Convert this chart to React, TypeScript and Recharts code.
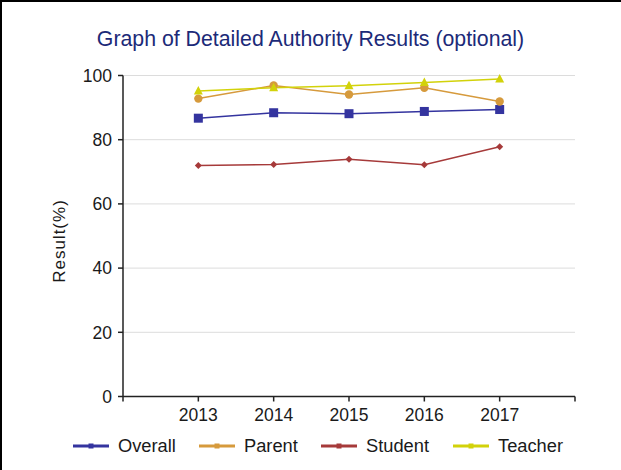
import React from "react";
import { LineChart, Line, XAxis, YAxis, CartesianGrid } from "recharts";

const years = [2013, 2014, 2015, 2016, 2017];
const overall = [86.7, 88.4, 88.1, 88.8, 89.4];
const parent = [92.8, 96.9, 94.1, 96.2, 91.9];
const student = [72.0, 72.3, 73.9, 72.2, 77.8];
const teacher = [95.2, 96.2, 96.8, 97.8, 98.9];
const yTicks = [0, 20, 40, 60, 80, 100];
const xTicks = [2012, 2013, 2014, 2015, 2016, 2017, 2018];

const data = years.map((y, i) => ({
  year: y,
  Overall: overall[i],
  Parent: parent[i],
  Student: student[i],
  Teacher: teacher[i],
}));

const COLORS = {
  Overall: "#34349f",
  Parent: "#d69a3c",
  Student: "#a63a3a",
  Teacher: "#d2d20a",
};

const FONT = "'Liberation Sans', Arial, sans-serif";

const Square = (props: any) => {
  const { cx, cy } = props;
  if (cx == null || cy == null) return null;
  return <rect x={cx - 4.5} y={cy - 4.5} width={9} height={9} fill={COLORS.Overall} />;
};
const Circle = (props: any) => {
  const { cx, cy } = props;
  if (cx == null || cy == null) return null;
  return <circle cx={cx} cy={cy} r={4.2} fill={COLORS.Parent} />;
};
const Diamond = (props: any) => {
  const { cx, cy } = props;
  if (cx == null || cy == null) return null;
  return (
    <path d={`M${cx},${cy - 3.5}L${cx + 3.5},${cy}L${cx},${cy + 3.5}L${cx - 3.5},${cy}Z`} fill={COLORS.Student} />
  );
};
const Triangle = (props: any) => {
  const { cx, cy } = props;
  if (cx == null || cy == null) return null;
  return (
    <path d={`M${cx},${cy - 5}L${cx + 4.5},${cy + 3.5}L${cx - 4.5},${cy + 3.5}Z`} fill={COLORS.Teacher} />
  );
};

const legendItems: { name: keyof typeof COLORS; x: number }[] = [
  { name: "Overall", x: 73 },
  { name: "Parent", x: 199 },
  { name: "Student", x: 321 },
  { name: "Teacher", x: 453 },
];

export default function App() {
  return (
    <div style={{ position: "absolute", left: 0, top: 0, width: 621, height: 470, background: "#fff", fontFamily: FONT, overflow: "hidden" }}>
      <div
        style={{
          position: "absolute",
          left: 0,
          top: 0,
          width: 700,
          height: 500,
          borderTop: "2px solid #000",
          borderLeft: "2px solid #000",
          boxSizing: "border-box",
        }}
      />
      <div
        style={{
          position: "absolute",
          left: 0,
          top: 27,
          width: 621,
          textAlign: "center",
          fontSize: 21.3,
          color: "#1c2a78",
          lineHeight: "24px",
        }}
      >
        Graph of Detailed Authority Results (optional)
      </div>
      <LineChart
        width={621}
        height={470}
        data={data}
        margin={{ top: 75.5, right: 46, left: 0, bottom: 0 }}
        style={{ position: "absolute", left: 0, top: 0 }}
      >
        <CartesianGrid horizontal vertical={false} stroke="#dcdcdc" strokeWidth={1} />
        <XAxis
          dataKey="year"
          type="number"
          domain={[2012, 2018]}
          ticks={xTicks}
          tickFormatter={(v: number) => (v === 2012 || v === 2018 ? "" : String(v))}
          height={73.5}
          stroke="#222"
          strokeWidth={1.5}
          tickSize={5}
          tickMargin={7}
          tick={{ fill: "#1a1a1a", fontSize: 17.5, fontFamily: FONT }}
          interval={0}
        />
        <YAxis
          domain={[0, 100]}
          ticks={yTicks}
          width={123}
          stroke="#222"
          strokeWidth={1.5}
          tickSize={5}
          tickMargin={6}
          tick={{ fill: "#1a1a1a", fontSize: 17.5, fontFamily: FONT }}
          interval={0}
        />
        <Line dataKey="Overall" stroke={COLORS.Overall} strokeWidth={1.5} dot={<Square />} activeDot={false} isAnimationActive={false} />
        <Line dataKey="Parent" stroke={COLORS.Parent} strokeWidth={1.5} dot={<Circle />} activeDot={false} isAnimationActive={false} />
        <Line dataKey="Student" stroke={COLORS.Student} strokeWidth={1.5} dot={<Diamond />} activeDot={false} isAnimationActive={false} />
        <Line dataKey="Teacher" stroke={COLORS.Teacher} strokeWidth={1.5} dot={<Triangle />} activeDot={false} isAnimationActive={false} />
      </LineChart>
      <svg width={40} height={140} style={{ position: "absolute", left: 40, top: 171 }}>
        <text
          x={19}
          y={70}
          transform="rotate(-90 19 70)"
          textAnchor="middle"
          dominantBaseline="central"
          fontSize={17}
          letterSpacing={1}
          fontFamily={FONT}
          fill="#1a1a1a"
        >
          Result(%)
        </text>
      </svg>
      {legendItems.map((it) => (
        <div key={it.name} style={{ position: "absolute", left: it.x, top: 434, height: 24, display: "flex", alignItems: "center" }}>
          <svg width={36} height={10} style={{ marginRight: 9 }}>
            <line x1={0} y1={5} x2={36} y2={5} stroke={COLORS[it.name]} strokeWidth={3} />
            <rect x={15.5} y={2.5} width={5} height={5} fill={COLORS[it.name]} />
          </svg>
          <span style={{ fontSize: 18.3, color: "#1a1a1a" }}>{it.name}</span>
        </div>
      ))}
    </div>
  );
}
